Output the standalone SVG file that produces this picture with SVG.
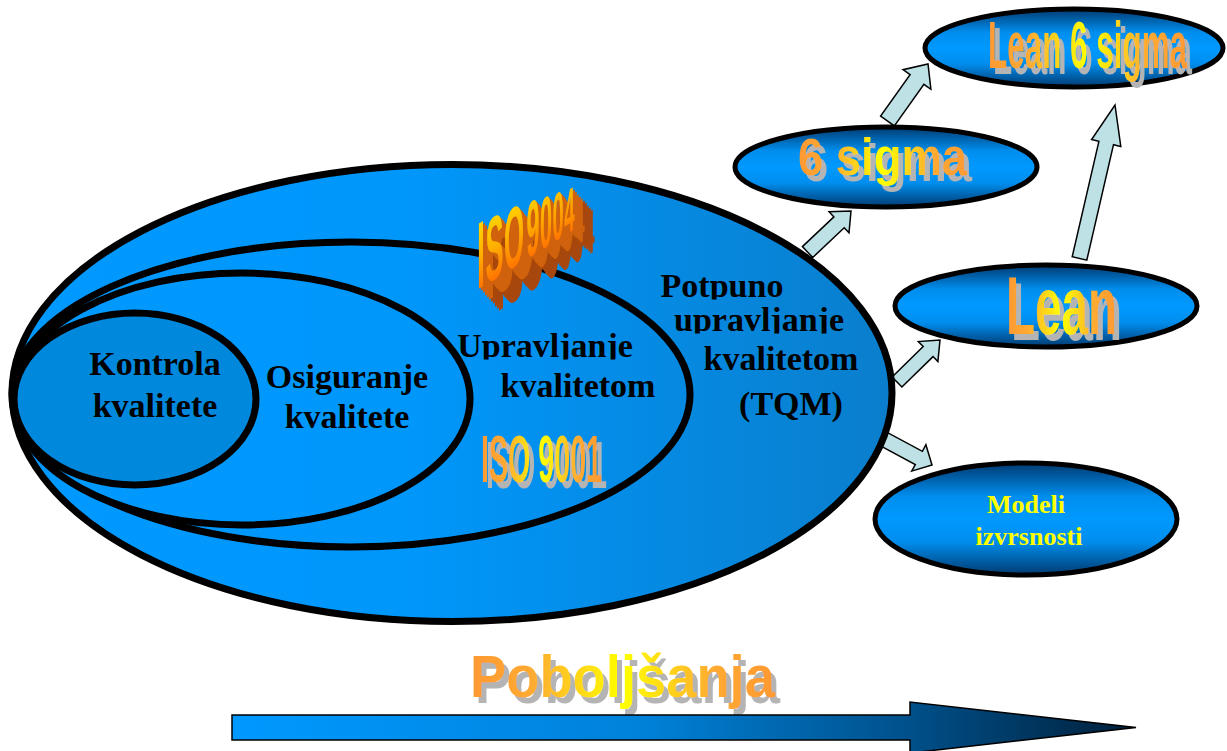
<svg xmlns="http://www.w3.org/2000/svg" width="1227" height="751" viewBox="0 0 1227 751">
<defs>
<style>
.ring{stroke:#000;stroke-width:7}
.small{fill:url(#gSmall);stroke:#000;stroke-width:5}
.lbl{font-family:"Liberation Serif","Times New Roman",serif;font-weight:bold;font-size:34px;fill:#000;text-anchor:middle}
.wa{font-family:"Liberation Sans",Arial,sans-serif;font-weight:bold;fill:url(#gWA)}
.arr{fill:#BDE1E4;stroke:#000;stroke-width:1.5;stroke-linejoin:miter}
.yel{font-family:"Liberation Serif","Times New Roman",serif;font-weight:bold;font-size:26px;fill:#FFFF00;text-anchor:middle}
</style>
<linearGradient id="gBig" gradientUnits="userSpaceOnUse" x1="12" y1="0" x2="892" y2="0">
<stop offset="0" stop-color="#0099FF"/><stop offset="0.45" stop-color="#0097FB"/><stop offset="1" stop-color="#0A7ECC"/>
</linearGradient>
<linearGradient id="gSmall" x1="0" y1="0" x2="0" y2="1">
<stop offset="0" stop-color="#003A70"/><stop offset="0.3" stop-color="#008EEE"/><stop offset="0.5" stop-color="#0099FF"/><stop offset="0.7" stop-color="#008EEE"/><stop offset="1" stop-color="#003A70"/>
</linearGradient>
<linearGradient id="gWA" x1="0" y1="0" x2="1" y2="0">
<stop offset="0" stop-color="#FF9933"/><stop offset="0.2" stop-color="#FFAA33"/><stop offset="0.5" stop-color="#FFFF00"/><stop offset="0.8" stop-color="#FFAA33"/><stop offset="1" stop-color="#FF9933"/>
</linearGradient>
<linearGradient id="gISO" x1="0" y1="0" x2="0" y2="1">
<stop offset="0" stop-color="#FFF000"/><stop offset="0.5" stop-color="#FFB000"/><stop offset="1" stop-color="#FF5000"/>
</linearGradient>
<linearGradient id="gBottom" gradientUnits="userSpaceOnUse" x1="232" y1="0" x2="1136" y2="0">
<stop offset="0" stop-color="#0099FF"/><stop offset="0.45" stop-color="#0082DA"/><stop offset="0.75" stop-color="#00508A"/><stop offset="1" stop-color="#001F3A"/>
</linearGradient>
<filter id="shadow" x="-10%" y="-20%" width="130%" height="160%">
<feOffset in="SourceAlpha" dx="5" dy="6" result="o"/>
<feFlood flood-color="#B4B4B4"/>
<feComposite in2="o" operator="in" result="s"/>
<feMerge><feMergeNode in="s"/><feMergeNode in="SourceGraphic"/></feMerge>
</filter>
<filter id="extrude" x="-10%" y="-10%" width="150%" height="150%">
<feOffset in="SourceAlpha" dx="2" dy="2.2" result="o1"/>
<feOffset in="SourceAlpha" dx="4" dy="4.4" result="o2"/>
<feOffset in="SourceAlpha" dx="6" dy="6.6" result="o3"/>
<feOffset in="SourceAlpha" dx="8" dy="8.8" result="o4"/>
<feOffset in="SourceAlpha" dx="10" dy="11" result="o5"/>
<feOffset in="SourceAlpha" dx="12" dy="13.2" result="o6"/>
<feOffset in="SourceAlpha" dx="14" dy="15.4" result="o7"/>
<feOffset in="SourceAlpha" dx="16" dy="17.6" result="o8"/>
<feOffset in="SourceAlpha" dx="18" dy="19.8" result="o9"/>
<feOffset in="SourceAlpha" dx="20" dy="22" result="o10"/>
<feMerge result="far"><feMergeNode in="o6"/><feMergeNode in="o7"/><feMergeNode in="o8"/><feMergeNode in="o9"/><feMergeNode in="o10"/></feMerge>
<feFlood flood-color="#A8460A"/>
<feComposite in2="far" operator="in" result="farC"/>
<feMerge result="near"><feMergeNode in="o1"/><feMergeNode in="o2"/><feMergeNode in="o3"/><feMergeNode in="o4"/><feMergeNode in="o5"/></feMerge>
<feFlood flood-color="#D0620E"/>
<feComposite in2="near" operator="in" result="nearC"/>
<feMerge><feMergeNode in="farC"/><feMergeNode in="nearC"/><feMergeNode in="SourceGraphic"/></feMerge>
</filter>
<clipPath id="cUp" clipPathUnits="userSpaceOnUse"><rect x="400" y="300" width="300" height="59.5"/></clipPath>
<clipPath id="cPot" clipPathUnits="userSpaceOnUse"><rect x="600" y="250" width="300" height="49.5"/></clipPath>
<clipPath id="cUpr" clipPathUnits="userSpaceOnUse"><rect x="600" y="300" width="300" height="33.5"/></clipPath>
</defs>
<rect width="1227" height="751" fill="#FFFFFF"/>

<g id="connectors">
<polygon class="arr" points="812.7,257.5 844.2,227.8 849,232.8 851,211 829.1,211.8 833.9,216.9 802.4,246.6"/>
<polygon class="arr" points="894.4,125.9 923.9,84.4 930.9,89.3 928,64 903.1,69.7 910.1,74.6 880.6,116.1"/>
<polygon class="arr" points="1086.8,260.2 1113.5,144.7 1120.8,146.4 1115,105 1091.6,139.6 1098.9,141.3 1072.2,256.8"/>
<polygon class="arr" points="901.9,387 933,356.6 937.9,361.6 940,340 918.3,341.6 923.2,346.6 892.1,377"/>
<polygon class="arr" points="874.5,442.6 915.3,464.5 911.7,471.1 932,465 925.9,444.7 922.4,451.3 881.6,429.4"/>
</g>

<g id="tqm">
<ellipse class="ring" cx="452" cy="393" rx="440" ry="228.5" fill="url(#gBig)"/>
<text class="lbl" x="722" y="297" clip-path="url(#cPot)">Potpuno</text>
<text class="lbl" x="759" y="331" clip-path="url(#cUpr)">upravljanje</text>
<text class="lbl" x="781" y="370">kvalitetom</text>
<text class="lbl" x="791" y="415">(TQM)</text>
</g>

<g id="upravljanje">
<ellipse class="ring" cx="351" cy="394.5" rx="339" ry="152.5" fill="url(#gBig)"/>
<text class="lbl" x="545" y="357" clip-path="url(#cUp)">Upravljanje</text>
<text class="lbl" x="578" y="397">kvalitetom</text>
</g>

<g id="osiguranje">
<ellipse class="ring" cx="242" cy="399" rx="228" ry="126" fill="url(#gBig)"/>
<text class="lbl" x="347" y="388">Osiguranje</text>
<text class="lbl" x="347" y="428">kvalitete</text>
</g>

<g id="kontrola">
<ellipse class="ring" cx="135" cy="399" rx="121" ry="86" fill="#0088DD"/>
<text class="lbl" x="155" y="375">Kontrola</text>
<text class="lbl" x="155" y="417">kvalitete</text>
</g>

<g id="iso9001" filter="url(#shadow)">
<text class="wa" font-size="66" transform="translate(481,482) scale(0.434,1)">ISO 9001</text>
</g>

<g id="iso9004" filter="url(#extrude)">
<g transform="translate(477,290) skewY(-32) scale(0.3,1)">
<text font-family="Liberation Sans, Arial, sans-serif" font-weight="bold" fill="url(#gISO)"><tspan x="0" y="0" font-size="95">I</tspan><tspan x="28" font-size="90">S</tspan><tspan x="90" font-size="86">O</tspan> <tspan x="165" font-size="78">9</tspan><tspan x="210" font-size="72">0</tspan><tspan x="252" font-size="67">0</tspan><tspan x="291" font-size="62">4</tspan></text>
</g>
</g>

<g id="sigma6">
<ellipse class="small" cx="886" cy="167" rx="151" ry="40"/>
<g filter="url(#shadow)"><text class="wa" font-size="52" transform="translate(798,175) scale(0.873,1)">6 sigma</text></g>
</g>

<g id="lean6sigma">
<ellipse class="small" cx="1074" cy="48" rx="149" ry="39"/>
<g filter="url(#shadow)"><text class="wa" font-size="67" transform="translate(988,68) scale(0.469,1)">Lean 6 sigma</text></g>
</g>

<g id="lean">
<ellipse class="small" cx="1046" cy="306" rx="151" ry="41"/>
<g filter="url(#shadow)"><text class="wa" font-size="82" transform="translate(1006,334) scale(0.58,1)">Lean</text></g>
</g>

<g id="modeli">
<ellipse class="small" cx="1026" cy="519" rx="151" ry="56"/>
<text class="yel" x="1026" y="513">Modeli</text>
<text class="yel" x="1029" y="545">izvrsnosti</text>
</g>

<g id="poboljsanja">
<g filter="url(#shadow)"><text class="wa" font-size="59" transform="translate(470,697) scale(0.921,1)">Poboljšanja</text></g>
<polygon points="232,715 910,715 910,702 1136,727.5 910,753 910,740 232,740" fill="url(#gBottom)" stroke="#000" stroke-width="1.5"/>
</g>
</svg>
